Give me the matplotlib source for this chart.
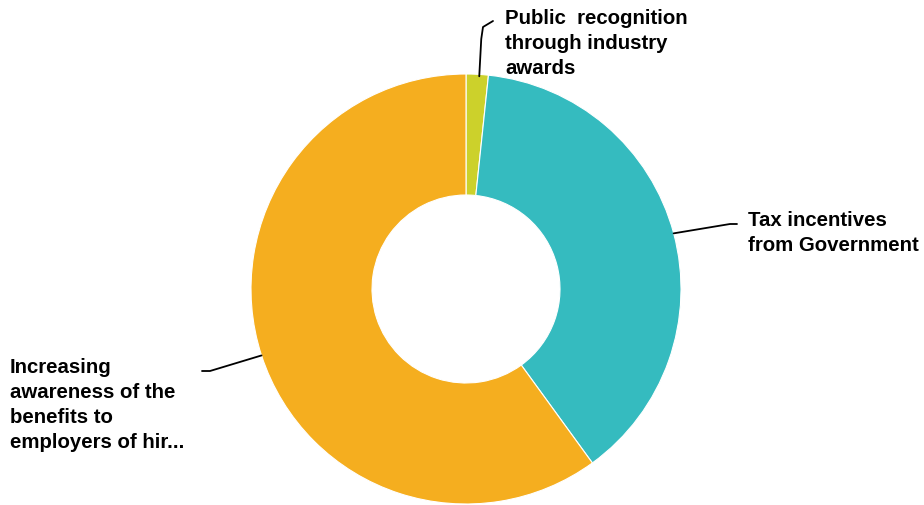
import numpy as np
import matplotlib.pyplot as plt

categories = [
    "Public  recognition\nthrough industry\nawards",
    "Tax incentives\nfrom Government",
    "Increasing\nawareness of the\nbenefits to\nemployers of hir...",
]
values = [1, 23, 36]
colors = ["#CCD12B", "#35BBBF", "#F5AE1F"]

W, H = 924, 506
fig = plt.figure(figsize=(W / 100, H / 100), dpi=100)
ax = fig.add_axes([0, 0, 1, 1])


def py(y):
    # pixel row (from top) to data y (from bottom)
    return H - y


cx, cy, r_out, r_in = 466, py(290), 215, 94
wedges, _ = ax.pie(
    values, colors=colors, startangle=90, counterclock=False,
    center=(cx, cy), radius=r_out,
    wedgeprops=dict(width=r_out - r_in, edgecolor="white", linewidth=0.8),
    frame=True,
)
ax.set_xlim(0, W)
ax.set_ylim(0, H)
ax.set_aspect("equal")
ax.axis("off")

# label anchors and leader elbows, in pixel rows from the top
label_pos = [(505, 9), (748, 211), (10, 358)]
elbows = [(493, 22), (737, 225), (202, 372)]
bends = [(483, 28), (730, 225), (210, 372)]

fracs = np.array(values) / np.sum(values)
cum = np.cumsum(fracs) - fracs / 2
for i, (cat, f) in enumerate(zip(categories, cum)):
    ang = np.deg2rad(90 - 360 * f)
    x0 = cx + r_out * np.cos(ang)
    y0 = cy + r_out * np.sin(ang)
    bx, by = bends[i]
    ex, ey = elbows[i]
    if i == 0:
        xs = [x0 + 2, x0 + 4, bx, ex]
        ys = [y0 - 2, py(40), py(by), py(ey)]
    else:
        xs = [x0, bx, ex]
        ys = [y0, py(by), py(ey)]
    ax.plot(xs, ys, color="black", lw=1.3, solid_capstyle="round")
    ax.text(label_pos[i][0], py(label_pos[i][1]), cat, ha="left", va="top",
            fontsize=14.7, fontweight="bold", family="Liberation Sans",
            color="#000000", linespacing=1.4)

fig.savefig("out.png", dpi=100)
